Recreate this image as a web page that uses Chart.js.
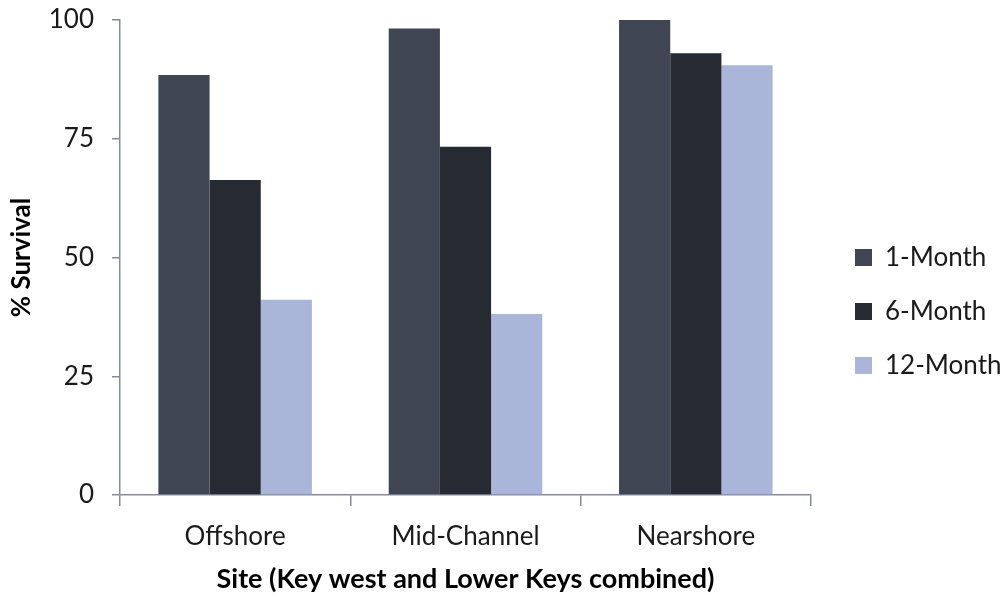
<!DOCTYPE html>
<html>
<head>
<meta charset="utf-8">
<script src="https://cdn.jsdelivr.net/npm/chart.js@4/dist/chart.umd.min.js"></script>
<style>
  html, body { margin: 0; padding: 0; background: #ffffff; }
  #wrap { width: 1005px; height: 597px; position: relative; }
</style>
</head>
<body>
<div id="wrap"><canvas id="c" width="1005" height="597"></canvas></div>
<script>
// Survival by site and time since outplanting
const sites = ['Offshore', 'Mid-Channel', 'Nearshore'];
const seriesNames = ['1-Month', '6-Month', '12-Month'];
const oneMonth = [88.4, 98.2, 100];
const sixMonth = [66.3, 73.3, 93.0];
const twelveMonth = [41.1, 38.1, 90.5];
const yTicks = [0, 25, 50, 75, 100];

const colors = ['#404553', '#262a32', '#a9b6d9'];
const axisColor = '#868a9e';
const fontFamily = 'Lato, "Open Sans", sans-serif';

// Pushes the legend items away from the plot area
const legendGap = {
  id: 'legendGap',
  beforeLayout(chart) {
    const lg = chart.legend;
    if (lg && !lg._gapPatched) {
      const fit = lg.fit;
      lg.fit = function () { fit.call(this); this.width = 194; };
      lg._gapPatched = true;
    }
  },
  afterLayout(chart) {
    const lg = chart.legend;
    if (lg) { lg.left += 16; lg.right += 16; lg.top += 3; lg.bottom += 3; }
  }
};

const values = [oneMonth, sixMonth, twelveMonth];

new Chart(document.getElementById('c'), {
  type: 'bar',
  data: {
    labels: sites,
    datasets: seriesNames.map((name, i) => ({
      label: name,
      data: values[i],
      backgroundColor: colors[i],
      borderColor: colors[i],
      borderWidth: 0,
      categoryPercentage: 2 / 3,
      barPercentage: 1.0
    }))
  },
  options: {
    responsive: false,
    animation: false,
    events: [],
    layout: { padding: { top: 20, left: 0, right: 0, bottom: 0 } },
    plugins: {
      tooltip: { enabled: false },
      legend: {
        position: 'right',
        align: 'center',
        labels: {
          boxWidth: 17,
          boxHeight: 17,
          padding: 28,
          color: '#1a1a1a',
          font: { family: fontFamily, size: 26 }
        }
      }
    },
    scales: {
      x: {
        grid: {
          display: true,
          drawOnChartArea: false,
          drawTicks: true,
          tickLength: 11,
          color: axisColor,
          lineWidth: 1.5,
          offset: true
        },
        border: { display: true, color: axisColor, width: 1.5 },
        ticks: {
          color: '#1a1a1a',
          padding: 15,
          font: { family: fontFamily, size: 26 }
        },
        title: {
          display: true,
          text: 'Site (Key west and Lower Keys combined)',
          color: '#000000',
          padding: { top: 4, bottom: 2 },
          font: { family: fontFamily, size: 27, weight: 'bold' }
        },
        afterFit(scale) { scale.height = 102; }
      },
      y: {
        min: 0,
        max: 100,
        afterBuildTicks(scale) { scale.ticks = yTicks.map(v => ({ value: v })); },
        grid: {
          display: true,
          drawOnChartArea: false,
          drawTicks: true,
          tickLength: 8,
          color: axisColor,
          lineWidth: 1.5
        },
        border: { display: true, color: axisColor, width: 1.5 },
        ticks: {
          color: '#1a1a1a',
          padding: 18,
          font: { family: fontFamily, size: 26 }
        },
        title: {
          display: true,
          text: '% Survival',
          color: '#000000',
          padding: { top: 6, bottom: 0 },
          font: { family: fontFamily, size: 26, weight: 'bold' }
        },
        afterFit(scale) {
          scale.width = 120;
          scale.paddingTop = 0;
          scale.paddingBottom = 0;
        }
      }
    }
  },
  plugins: [legendGap]
});
</script>
</body>
</html>
